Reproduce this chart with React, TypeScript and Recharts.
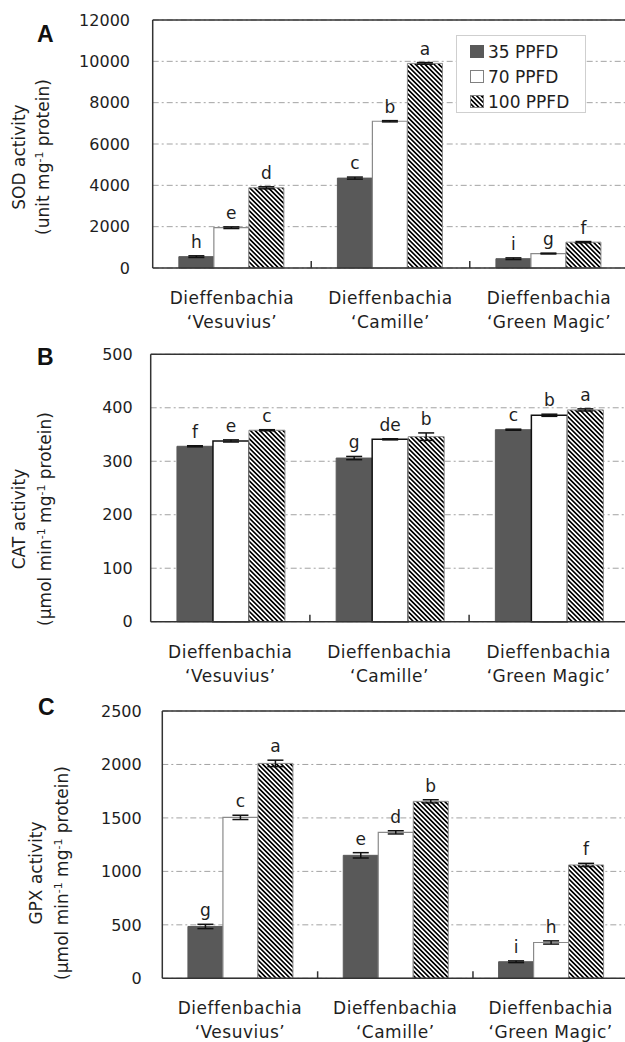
import React from 'react';
import {
  BarChart,
  Bar,
  XAxis,
  YAxis,
  CartesianGrid,
  ErrorBar,
  LabelList,
  ReferenceLine,
  Legend,
} from 'recharts';

const FONT = "'DejaVu Sans', Verdana, sans-serif";
const TEXT = '#1e1e1e';

// ---------- data ----------
const categoryLines: string[][] = [
  ['Dieffenbachia', '\u2018Vesuvius\u2019'],
  ['Dieffenbachia', '\u2018Camille\u2019'],
  ['Dieffenbachia', '\u2018Green Magic\u2019'],
];
const seriesNames = ['35 PPFD', '70 PPFD', '100 PPFD'];

// Panel A: SOD
const sod35 = [550, 4350, 450];
const sod70 = [1950, 7100, 700];
const sod100 = [3880, 9900, 1250];
const sodErr35 = [40, 50, 40];
const sodErr70 = [40, 30, 20];
const sodErr100 = [50, 40, 30];
const sodLetters35 = ['h', 'c', 'i'];
const sodLetters70 = ['e', 'b', 'g'];
const sodLetters100 = ['d', 'a', 'f'];
const sodTicks = [0, 2000, 4000, 6000, 8000, 10000, 12000];

// Panel B: CAT
const cat35 = [328, 306, 359];
const cat70 = [338, 341, 386];
const cat100 = [358, 346, 396];
const catErr35 = [1, 3, 1];
const catErr70 = [2, 1, 2];
const catErr100 = [1, 7, 2];
const catLetters35 = ['f', 'g', 'c'];
const catLetters70 = ['e', 'de', 'b'];
const catLetters100 = ['c', 'b', 'a'];
const catTicks = [0, 100, 200, 300, 400, 500];

// Panel C: GPX
const gpx35 = [485, 1150, 155];
const gpx70 = [1505, 1365, 335];
const gpx100 = [2010, 1655, 1060];
const gpxErr35 = [20, 25, 8];
const gpxErr70 = [20, 15, 15];
const gpxErr100 = [30, 15, 15];
const gpxLetters35 = ['g', 'e', 'i'];
const gpxLetters70 = ['c', 'd', 'h'];
const gpxLetters100 = ['a', 'b', 'f'];
const gpxTicks = [0, 500, 1000, 1500, 2000, 2500];

// ---------- layout ----------
const CHART_W = 640;
const RIGHT_M = 11.7;
const HATCH = 3.3;

type PanelProps = {
  id: string;
  top: number;
  height: number;
  plotTop: number;
  plotBottom: number;
  yAxisWidth: number;
  tickGap: number;
  s: number[][];
  e: number[][];
  l: string[][];
  ticks: number[];
  whiteStroke: string;
  whiteStrokeWidth: number;
  legend?: boolean;
};

const HatchPattern = ({ id }: { id: string }) => (
  <pattern
    id={id}
    patternUnits="userSpaceOnUse"
    width={HATCH}
    height={HATCH}
    patternTransform="rotate(-45)"
  >
    <rect width={HATCH} height={HATCH} fill="#fff" />
    <rect width={HATCH * 0.5} height={HATCH} fill="#000" />
  </pattern>
);

const Swatch = ({ i, pid }: { i: number; pid: string }) => (
  <svg width={14} height={13} style={{ marginRight: 4, flex: 'none' }}>
    <defs>
      <HatchPattern id={pid} />
    </defs>
    <rect
      x={0.5}
      y={0.5}
      width={13}
      height={12}
      fill={i === 0 ? '#595959' : i === 1 ? '#fff' : `url(#${pid})`}
      stroke={i === 0 ? '#595959' : '#808080'}
      strokeWidth={1}
    />
  </svg>
);

const LegendBox = () => (
  <div
    style={{
      boxSizing: 'border-box',
      width: 130,
      height: 78,
      border: '1px solid #cfcfcf',
      background: '#fff',
      padding: '3px 0 0 13px',
      fontFamily: FONT,
      fontSize: 17,
      color: TEXT,
    }}
  >
    {seriesNames.map((n, i) => (
      <div key={n} style={{ display: 'flex', alignItems: 'center', height: 25 }}>
        <Swatch i={i} pid="legend-hatch" />
        <span style={{ whiteSpace: 'nowrap' }}>{n}</span>
      </div>
    ))}
  </div>
);

function Panel(p: PanelProps) {
  const rows = categoryLines.map((lines, i) => ({
    name: lines.join(' '),
    v35: p.s[0][i],
    v70: p.s[1][i],
    v100: p.s[2][i],
    e35: p.e[0][i],
    e70: p.e[1][i],
    e100: p.e[2][i],
    l35: p.l[0][i],
    l70: p.l[1][i],
    l100: p.l[2][i],
  }));
  const plotW = CHART_W - p.yAxisWidth - RIGHT_M;
  const band = plotW / categoryLines.length;
  const xAxisH = p.height - (p.plotBottom - p.top);
  const yMax = p.ticks[p.ticks.length - 1];
  const hatchId = `hatch-${p.id}`;

  const letter = (k: number) => (lp: any) => {
    const vb = lp.viewBox ?? lp;
    const x = Number(lp.x ?? vb.x);
    const y = Number(lp.y ?? vb.y);
    const w = Number(lp.width ?? vb.width);
    const h = Number(lp.height ?? vb.height);
    const idx = Number(lp.index ?? 0);
    const val = p.s[k][idx];
    const err = p.e[k][idx];
    const pxPer = val ? Math.abs(h) / val : 0;
    const top = Math.min(y, y + h) - err * pxPer;
    return (
      <text
        x={x + w / 2}
        y={top - 8}
        textAnchor="middle"
        fontSize={17}
        fill={TEXT}
        fontFamily={FONT}
      >
        {lp.value}
      </text>
    );
  };

  const renderTick = (tp: any) => {
    const { x, y } = tp;
    const index = Number(tp.index ?? tp.payload?.index ?? 0);
    const lines = categoryLines[index] ?? categoryLines[0];
    return (
      <g>
        <text
          x={x}
          y={y + 36}
          textAnchor="middle"
          fontSize={17}
          fill={TEXT}
          fontFamily={FONT}
          letterSpacing={0.5}
        >
          {lines[0]}
        </text>
        <text
          x={x}
          y={y + 60}
          textAnchor="middle"
          fontSize={17}
          fill={TEXT}
          fontFamily={FONT}
          letterSpacing={0.5}
        >
          {lines[1]}
        </text>
        {index < categoryLines.length - 1 ? (
          <line
            x1={x + band / 2}
            x2={x + band / 2}
            y1={y}
            y2={y - 7}
            stroke="#333"
            strokeWidth={1.5}
          />
        ) : null}
      </g>
    );
  };

  return (
    <div style={{ position: 'absolute', left: 0, top: p.top, width: CHART_W, height: p.height }}>
      <BarChart
        width={CHART_W}
        height={p.height}
        data={rows}
        margin={{ top: p.plotTop - p.top, right: RIGHT_M, bottom: 0, left: 0 }}
        barCategoryGap="16.5%"
        barGap={0}
      >
        <defs>
          <HatchPattern id={hatchId} />
        </defs>
        <CartesianGrid vertical={false} stroke="#a3a3a3" strokeDasharray="6 3 2 3" />
        <XAxis
          dataKey="name"
          height={xAxisH}
          interval={0}
          tickLine={false}
          tickSize={0}
          tickMargin={0}
          axisLine={{ stroke: '#333', strokeWidth: 1.5 }}
          tick={renderTick}
        />
        <YAxis
          type="number"
          domain={[0, yMax]}
          ticks={p.ticks}
          interval={0}
          width={p.yAxisWidth}
          tickLine={false}
          tickSize={0}
          tickMargin={p.tickGap}
          axisLine={{ stroke: '#333', strokeWidth: 1.5 }}
          tick={{ fontSize: 16, fill: TEXT, fontFamily: FONT }}
        />
        <Bar dataKey="v35" name={seriesNames[0]} fill="#595959" stroke="#595959" strokeWidth={1} isAnimationActive={false}>
          <ErrorBar dataKey="e35" width={8} stroke="#111" strokeWidth={1.5} />
          <LabelList dataKey="l35" content={letter(0)} />
        </Bar>
        <Bar
          dataKey="v70"
          name={seriesNames[1]}
          fill="#ffffff"
          stroke={p.whiteStroke}
          strokeWidth={p.whiteStrokeWidth}
          isAnimationActive={false}
        >
          <ErrorBar dataKey="e70" width={8} stroke="#111" strokeWidth={1.5} />
          <LabelList dataKey="l70" content={letter(1)} />
        </Bar>
        <Bar
          dataKey="v100"
          name={seriesNames[2]}
          fill={`url(#${hatchId})`}
          stroke="#8a8a8a"
          strokeWidth={1}
          isAnimationActive={false}
        >
          <ErrorBar dataKey="e100" width={8} stroke="#111" strokeWidth={1.5} />
          <LabelList dataKey="l100" content={letter(2)} />
        </Bar>
        <ReferenceLine y={yMax} stroke="#333" strokeWidth={1.5} />
        {p.legend ? (
          <Legend
            layout="vertical"
            align="center"
            verticalAlign="middle"
            wrapperStyle={{ left: 456, top: 35, width: 130, height: 78 }}
            content={() => <LegendBox />}
          />
        ) : null}
      </BarChart>
    </div>
  );
}

const Sup = ({ children }: { children: React.ReactNode }) => (
  <>
    <tspan dy={-6} fontSize={11}>
      {children}
    </tspan>
    <tspan dy={6}> </tspan>
  </>
);

const YTitle = ({ x1, x2, cy, title, unit }: { x1: number; x2: number; cy: number; title: string; unit: React.ReactNode }) => (
  <>
    <text transform={`translate(${x1},${cy}) rotate(-90)`} textAnchor="middle" fontSize={17} fill={TEXT} fontFamily={FONT}>
      {title}
    </text>
    <text transform={`translate(${x2},${cy}) rotate(-90)`} textAnchor="middle" fontSize={17} fill={TEXT} fontFamily={FONT}>
      {unit}
    </text>
  </>
);

export default function App() {
  const letterStyle = { fontFamily: "'Liberation Sans', Arial, sans-serif", fontWeight: 700, fontSize: 23, fill: '#111' } as const;
  return (
    <div
      style={{
        position: 'absolute',
        left: 0,
        top: 0,
        width: 625,
        height: 1042,
        overflow: 'hidden',
        background: '#fff',
        fontFamily: FONT,
      }}
    >
      <Panel
        id="a"
        top={0}
        height={345}
        plotTop={20}
        plotBottom={268}
        yAxisWidth={152.7}
        tickGap={22.7}
        s={[sod35, sod70, sod100]}
        e={[sodErr35, sodErr70, sodErr100]}
        l={[sodLetters35, sodLetters70, sodLetters100]}
        ticks={sodTicks}
        whiteStroke="#8a8a8a"
        whiteStrokeWidth={1.2}
        legend
      />
      <Panel
        id="b"
        top={340}
        height={360}
        plotTop={354.3}
        plotBottom={621.7}
        yAxisWidth={150.7}
        tickGap={18}
        s={[cat35, cat70, cat100]}
        e={[catErr35, catErr70, catErr100]}
        l={[catLetters35, catLetters70, catLetters100]}
        ticks={catTicks}
        whiteStroke="#111"
        whiteStrokeWidth={1.5}
      />
      <Panel
        id="c"
        top={680}
        height={362}
        plotTop={711}
        plotBottom={978.3}
        yAxisWidth={162.3}
        tickGap={20.6}
        s={[gpx35, gpx70, gpx100]}
        e={[gpxErr35, gpxErr70, gpxErr100]}
        l={[gpxLetters35, gpxLetters70, gpxLetters100]}
        ticks={gpxTicks}
        whiteStroke="#8a8a8a"
        whiteStrokeWidth={1.2}
      />
      <svg
        width={625}
        height={1042}
        style={{ position: 'absolute', left: 0, top: 0, pointerEvents: 'none' }}
      >
        <text x={37} y={42} style={letterStyle}>A</text>
        <text x={37} y={365} style={letterStyle}>B</text>
        <text x={38} y={715} style={letterStyle}>C</text>
        <YTitle
          x1={25}
          x2={49}
          cy={157}
          title="SOD activity"
          unit={<>(unit mg<Sup>-1</Sup>protein)</>}
        />
        <YTitle
          x1={25}
          x2={51}
          cy={519}
          title="CAT activity"
          unit={<>(μmol min<Sup>-1</Sup>mg<Sup>-1</Sup>protein)</>}
        />
        <YTitle
          x1={41.7}
          x2={68}
          cy={873}
          title="GPX activity"
          unit={<>(μmol min<Sup>-1</Sup>mg<Sup>-1</Sup>protein)</>}
        />
      </svg>
    </div>
  );
}
